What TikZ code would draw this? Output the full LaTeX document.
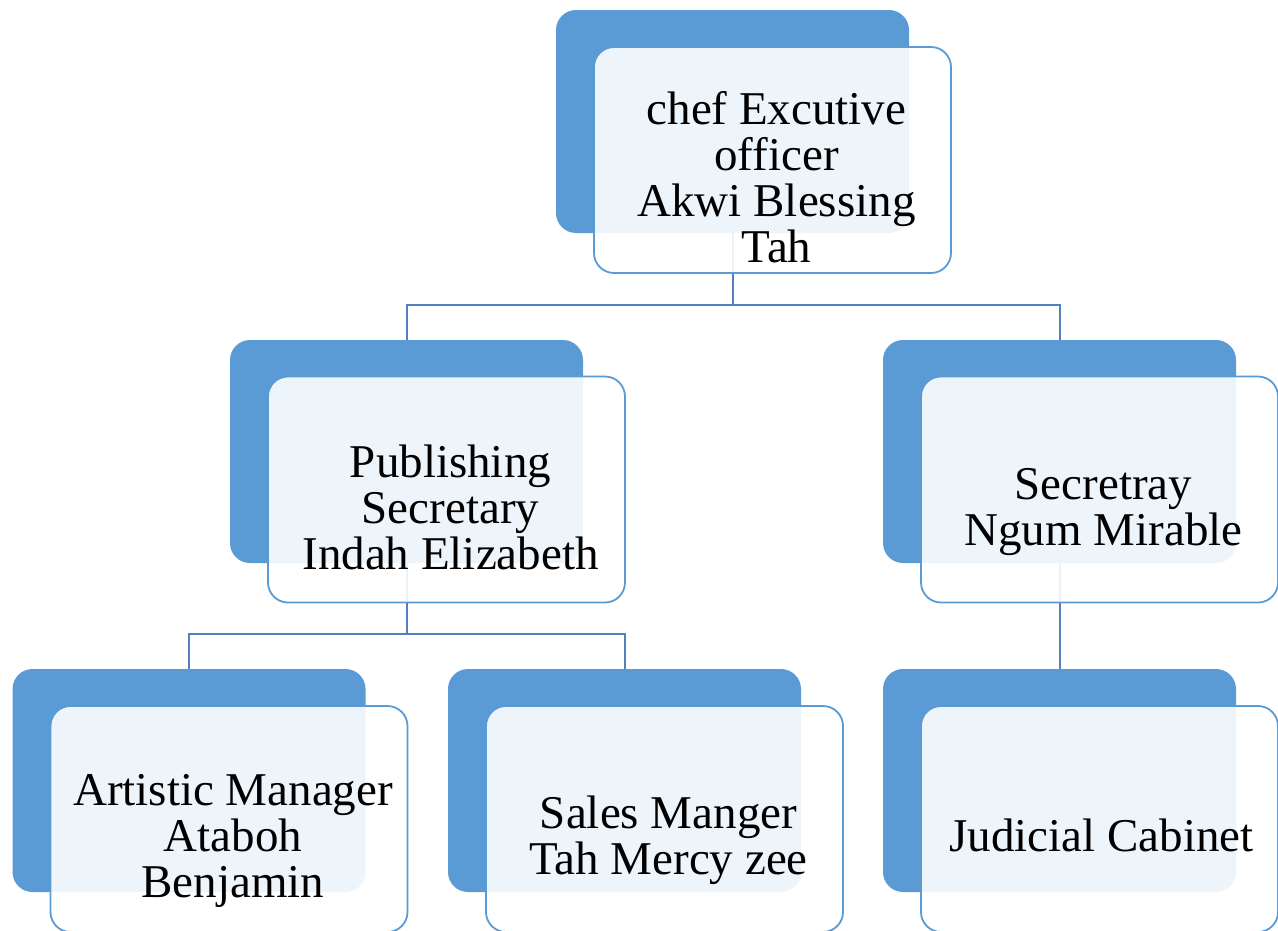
\documentclass[tikz,border=0pt]{standalone}
\usepackage{fontspec}
\setmainfont{Liberation Serif}
\definecolor{darkblue}{RGB}{91,155,213}
\definecolor{connblue}{RGB}{80,128,190}
\begin{document}
\begin{tikzpicture}[x=1pt,y=-1pt,
  back/.style={rectangle,rounded corners=20pt,fill=darkblue,draw=none,minimum width=353pt,minimum height=223pt,inner sep=0pt,anchor=center},
  front/.style={rectangle,rounded corners=20pt,fill=white,fill opacity=0.9,draw=darkblue,line width=1.8pt,minimum width=357pt,minimum height=226pt,inner sep=0pt,anchor=center},
  lbl/.style={align=center,font=\fontsize{47}{46}\selectfont,inner sep=0pt,anchor=center,text=black},
  conn/.style={draw=connblue,line width=2pt}]
\useasboundingbox (0,0) rectangle (1278,930);
\clip (0,0) rectangle (1278,930);
% back boxes
\node[back] (d0) at (732.5,121.5) {};
\node[back] (d1) at (406.5,451.5) {};
\node[back] (d2) at (1059.5,451.5) {};
\node[back] (d3) at (189,780.5) {};
\node[back] (d4) at (624.5,780.5) {};
\node[back] (d5) at (1059.5,780.5) {};
% connectors
\coordinate (j0) at (732.5,305);
\coordinate (j1) at (406.5,634);
\draw[conn] (d0.south) -- (j0);
\draw[conn] (j0) -| (d1.north);
\draw[conn] (j0) -| (d2.north);
\draw[conn] (d1.south) -- (j1);
\draw[conn] (j1) -| (d3.north);
\draw[conn] (j1) -| (d4.north);
\draw[conn] (d2.south) -- (d5.north);
% front boxes
\node[front] (f0) at (772.5,160) {};
\node[front] (f1) at (446.5,489.5) {};
\node[front] (f2) at (1099.5,489.5) {};
\node[front] (f3) at (229,819) {};
\node[front] (f4) at (664.5,819) {};
\node[front] (f5) at (1099.5,819) {};
% labels
\node[lbl] (t0) at (776.5,177) {chef Excutive\\officer\\Akwi Blessing\\Tah};
\node[lbl] (t1) at (450.5,507.5) {Publishing\\Secretary\\Indah Elizabeth};
\node[lbl] (t2) at (1103.5,512) {Secretray\\Ngum Mirable};
\node[lbl] (t3) at (233,841) {Artistic Manager\\Ataboh\\Benjamin};
\node[lbl] (t4) at (668.5,840) {Sales Manger\\Tah Mercy zee};
\node[lbl] (t5) at (1101.5,835) {Judicial Cabinet};
\end{tikzpicture}
\end{document}
